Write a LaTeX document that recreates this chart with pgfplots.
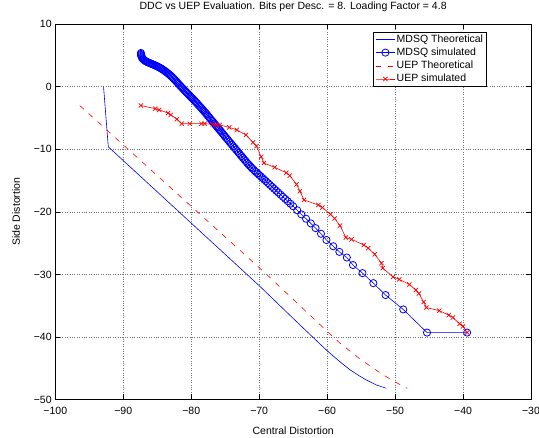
\documentclass[border=0pt]{standalone}
\usepackage{fontspec}
\setmainfont{Liberation Sans}
\usepackage{pgfplots}
\pgfplotsset{compat=1.18}

\begin{document}
\fontsize{10.5}{12.6}\selectfont
\begin{tikzpicture}
\useasboundingbox (-55.3pt,-38.5pt) rectangle (483.7pt,399.5pt);
\begin{axis}[
    at={(0,0)}, anchor=south west,
    scale only axis,
    width=475.7pt, height=375.3pt,
    xmin=-100, xmax=-30, ymin=-50, ymax=10,
    xtick={-100,-90,...,-30},
    ytick={-50,-40,...,10},
    xticklabels={−100,−90,−80,−70,−60,−50,−40,−30},
    yticklabels={−50,−40,−30,−20,−10,0,10},
    xticklabel style={yshift=-4pt},
    tick align=inside,
    major tick length=5pt,
    tick style={black, line width=0.6pt},
    axis line style={line width=0.8pt},
    grid=major,
    grid style={dotted, black!55, line width=0.5pt},
    title={DDC vs UEP Evaluation. Bits per Desc. = 8. Loading Factor = 4.8},
    title style={at={(axis description cs:0.5,1.0226)}, anchor=base},
    xlabel={Central Distortion},
    xlabel style={at={(axis description cs:0.5,-0.0946)}, anchor=base},
    ylabel={Side Distortion},
    ylabel style={at={(axis description cs:-0.0746,0.5)}, anchor=base},
    legend image code/.code={\draw[mark repeat=2,mark phase=2,#1] plot coordinates {(0pt,0pt)(9.5pt,0pt)(19pt,0pt)};},
    legend cell align=left,
    legend style={at={(0.6685,0.98)}, anchor=north west,
        draw=black, line width=0.6pt, fill=white,
        inner xsep=2pt, inner ysep=1pt, row sep=0.4pt,
        nodes={inner sep=1.5pt, text height=7.6pt, text depth=2.2pt},
        font=\fontsize{10.5}{12.6}\selectfont},
]
% MDSQ theoretical
\addplot[blue, line width=0.6pt] coordinates {
    (-92.9,0) (-92.2,-9.6) (-70,-31.8) (-63.5,-38.6) (-60,-42.2)
    (-58.3,-43.8) (-56.7,-45.2) (-55.3,-46.2) (-54.2,-46.9) (-52.7,-47.7) (-51.3,-48.2)
};
\addlegendentry{MDSQ Theoretical}
% MDSQ simulated (dense near the head)
\addplot[blue, line width=0.6pt, mark=o, mark size=3.6pt, mark options={solid, line width=0.8pt}] coordinates {
    (-87.40,5.40) (-87.40,5.25) (-87.38,5.10) (-87.35,4.95) (-87.30,4.80) (-87.24,4.66)
    (-87.16,4.52) (-87.06,4.40) (-86.95,4.28) (-86.82,4.17) (-86.68,4.07) (-86.52,3.98)
    (-86.36,3.90) (-86.20,3.82) (-86.04,3.75) (-85.88,3.68) (-85.72,3.61) (-85.56,3.54)
    (-85.40,3.46) (-85.24,3.38) (-85.08,3.30) (-84.92,3.21) (-84.76,3.12) (-84.60,3.03)
    (-84.44,2.93) (-84.28,2.82) (-84.12,2.70) (-83.96,2.58) (-83.80,2.45) (-83.64,2.32)
    (-83.48,2.18) (-83.32,2.04) (-83.16,1.89) (-83.00,1.74) (-82.84,1.58) (-82.68,1.41)
    (-82.52,1.23) (-82.36,1.05) (-82.20,0.86) (-82.04,0.67) (-81.88,0.48) (-81.72,0.28)
    (-81.56,0.09) (-81.40,-0.10) (-81.24,-0.28) (-81.08,-0.46) (-80.92,-0.64) (-80.76,-0.82)
    (-80.60,-1.00) (-80.44,-1.18) (-80.28,-1.36) (-80.12,-1.54) (-79.96,-1.72) (-79.80,-1.90)
    (-79.64,-2.08) (-79.48,-2.27) (-79.32,-2.45) (-79.16,-2.64) (-79.00,-2.83) (-78.84,-3.02)
    (-78.68,-3.21) (-78.52,-3.40) (-78.36,-3.60) (-78.20,-3.80) (-78.04,-4.00) (-77.88,-4.20)
    (-77.72,-4.41) (-77.56,-4.62) (-77.40,-4.83) (-77.24,-5.04) (-77.08,-5.25) (-76.92,-5.46)
    (-76.76,-5.67) (-76.60,-5.88) (-76.44,-6.09) (-76.28,-6.30) (-76.12,-6.51) (-75.96,-6.72)
    (-75.80,-6.93) (-75.64,-7.14) (-75.48,-7.35) (-75.32,-7.56) (-75.16,-7.77) (-75.00,-7.98)
    (-74.80,-8.24) (-74.60,-8.50) (-74.40,-8.76) (-74.20,-9.02) (-74.00,-9.28) (-73.80,-9.54)
    (-73.60,-9.80) (-73.40,-10.06) (-73.20,-10.32) (-73.00,-10.58) (-72.80,-10.84) (-72.60,-11.10)
    (-72.40,-11.36) (-72.20,-11.62) (-72.00,-11.88) (-71.80,-12.13) (-71.60,-12.38) (-71.40,-12.62)
    (-71.20,-12.85) (-71.00,-13.08) (-70.75,-13.35) (-70.50,-13.60) (-70.25,-13.85) (-70.00,-14.10)
    (-69.75,-14.35) (-69.50,-14.60) (-69.25,-14.85) (-69.00,-15.10) (-68.70,-15.40) (-68.40,-15.70)
    (-68.10,-16.00) (-67.80,-16.30) (-67.50,-16.60) (-67.20,-16.90) (-66.85,-17.25) (-66.50,-17.60)
    (-66.15,-17.95) (-65.80,-18.30) (-65.40,-18.70) (-65.00,-19.10) (-64.40,-19.75) (-63.80,-20.40)
    (-63.10,-21.10) (-62.40,-21.85) (-61.70,-22.60) (-60.90,-23.50) (-60.10,-24.50) (-59.10,-25.50)
    (-58.20,-26.40) (-57.10,-27.30) (-56.20,-28.50) (-54.80,-29.80) (-53.20,-31.40) (-51.40,-33.30)
    (-48.80,-35.60) (-45.30,-39.30) (-39.40,-39.30)
};
\addlegendentry{MDSQ simulated}
% UEP theoretical
\addplot[red, line width=0.6pt, dash pattern=on 5.5pt off 6.5pt] coordinates {
    (-96.4,-3.0) (-79.1,-20.0) (-69.0,-29.9) (-59.7,-39.4) (-58.1,-41.0)
    (-55.2,-43.5) (-52.0,-45.9) (-50.3,-47.0) (-48.8,-47.9) (-48.2,-48.2)
};
\addlegendentry{UEP Theoretical}
% UEP simulated
\addplot[red, line width=0.6pt, mark=x, mark size=3pt, mark options={solid, line width=0.7pt}] coordinates {
    (-87.4,-3.0) (-85.3,-3.5) (-84.7,-3.7) (-83.4,-4.2) (-83.0,-4.5) (-82.1,-5.2)
    (-81.4,-5.9) (-80.2,-5.9) (-78.5,-5.9) (-78.0,-5.9) (-76.85,-6.0) (-76.3,-6.1)
    (-75.8,-6.1) (-74.4,-6.5) (-73.3,-6.9) (-71.95,-7.7) (-70.9,-8.9) (-70.4,-9.5)
    (-69.7,-11.2) (-69.3,-12.2) (-67.7,-12.9) (-66.0,-13.75) (-65.5,-14.2) (-64.5,-15.6)
    (-64.0,-16.7) (-63.4,-18.1) (-61.3,-18.9) (-60.7,-19.3) (-59.5,-20.4) (-58.9,-21.05)
    (-58.1,-22.2) (-57.25,-24.1) (-56.4,-24.4) (-54.6,-25.3) (-53.96,-25.8) (-52.99,-26.8)
    (-52.0,-28.2) (-51.8,-29.0) (-50.3,-30.4) (-49.4,-30.8) (-47.9,-31.6) (-46.95,-32.5)
    (-46.5,-33.05) (-45.8,-34.4) (-45.4,-35.3) (-43.5,-35.8) (-42.1,-36.5) (-41.5,-36.9)
    (-40.5,-37.9) (-40.0,-38.3) (-39.4,-39.3)
};
\addlegendentry{UEP simulated}
\end{axis}
\end{tikzpicture}
\end{document}
